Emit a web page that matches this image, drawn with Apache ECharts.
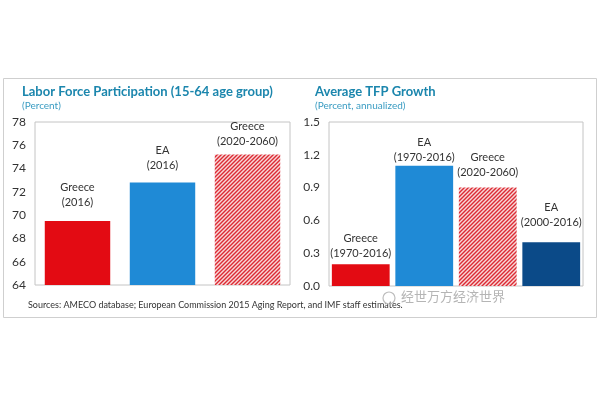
<!DOCTYPE html>
<html>
<head>
<meta charset="utf-8">
<script src="https://cdn.jsdelivr.net/npm/echarts@6/dist/echarts.min.js"></script>
<style>html,body{margin:0;padding:0;background:#fff;}#c{width:600px;height:400px;}</style>
</head>
<body>
<div id="c"></div>
<script>
// ---- data ----
var lfpCategories = ['Greece\n(2016)', 'EA\n(2016)', 'Greece\n(2020-2060)'];
var lfpValues = [69.5, 72.8, 75.2];
var lfpTicks = [64, 66, 68, 70, 72, 74, 76, 78];

var tfpCategories = ['Greece\n(1970-2016)', 'EA\n(1970-2016)', 'Greece\n(2020-2060)', 'EA\n(2000-2016)'];
var tfpValues = [0.2, 1.1, 0.9, 0.4];
var tfpTicks = [0.0, 0.3, 0.6, 0.9, 1.2, 1.5];

// ---- styles ----
var RED = '#e30b13', BLUE = '#1f8ad6', NAVY = '#0b4a88';
function hatch() {
  var c = document.createElement('canvas');
  c.width = 4; c.height = 4;
  var g = c.getContext('2d');
  g.fillStyle = '#f8d8d8'; g.fillRect(0, 0, 4, 4);
  g.strokeStyle = '#dc2a34'; g.lineWidth = 1.4;
  g.beginPath();
  g.moveTo(0, 4); g.lineTo(4, 0);
  g.moveTo(-1, 1); g.lineTo(1, -1);
  g.moveTo(3, 5); g.lineTo(5, 3);
  g.stroke();
  return {image: c, repeat: 'repeat'};
}
var HATCH = hatch();
var lfpColors = [RED, BLUE, HATCH];
var lfpOffsets = [[0, -1], [0, 0], [0, 4]];
var tfpColors = [RED, BLUE, HATCH, NAVY];
var tfpOffsets = [[0, 2], [0, 4], [0, -3], [0, -7]];

var FONT = 'Lato';
var chart = echarts.init(document.getElementById('c'));

function axisY(gi, ticks, fmt) {
  return {
    type: 'value', gridIndex: gi,
    min: ticks[0], max: ticks[ticks.length - 1],
    interval: ticks[1] - ticks[0],
    axisLine: {show: false}, axisTick: {show: false}, splitLine: {show: false},
    axisLabel: {color: '#333', fontSize: 12, fontFamily: FONT, margin: 9, formatter: fmt}
  };
}
function barData(vals, colors, offsets) {
  return vals.map(function (v, i) {
    return {value: v, itemStyle: {color: colors[i]}, label: {offset: offsets[i]}};
  });
}

chart.setOption({
  animation: false,
  backgroundColor: '#fff',
  title: [
    {text: 'Labor Force Participation (15-64 age group)', left: 22, top: 85, padding: 0,
     textStyle: {color: '#1b86ad', fontSize: 13, fontWeight: 'bold', fontFamily: FONT}},
    {text: '(Percent)', left: 22, top: 101, padding: 0,
     textStyle: {color: '#3a9cc2', fontSize: 10, fontWeight: 'normal', fontFamily: FONT}},
    {text: 'Average TFP Growth', left: 315, top: 85, padding: 0,
     textStyle: {color: '#1b86ad', fontSize: 13, fontWeight: 'bold', fontFamily: FONT}},
    {text: '(Percent, annualized)', left: 315, top: 101, padding: 0,
     textStyle: {color: '#3a9cc2', fontSize: 10, fontWeight: 'normal', fontFamily: FONT}}
  ],
  grid: [
    {left: 35, right: 310, top: 122, bottom: 115, show: true, borderColor: '#c4c4c4', borderWidth: 1},
    {left: 329, right: 17, top: 122, bottom: 114, show: true, borderColor: '#c4c4c4', borderWidth: 1}
  ],
  xAxis: [
    {type: 'category', gridIndex: 0, data: lfpCategories, axisLine: {show: false},
     axisTick: {show: false}, axisLabel: {show: false}},
    {type: 'category', gridIndex: 1, data: tfpCategories, axisLine: {show: false},
     axisTick: {show: false}, axisLabel: {show: false}}
  ],
  yAxis: [
    axisY(0, lfpTicks, function (v) { return String(v); }),
    axisY(1, tfpTicks, function (v) { return v.toFixed(1); })
  ],
  series: [
    {type: 'bar', xAxisIndex: 0, yAxisIndex: 0, barCategoryGap: '23%',
     data: barData(lfpValues, lfpColors, lfpOffsets),
     label: {show: true, position: 'top', distance: 10, formatter: '{b}', color: '#333',
             fontSize: 11, lineHeight: 15, fontFamily: FONT, align: 'center'}},
    {type: 'bar', xAxisIndex: 1, yAxisIndex: 1, barCategoryGap: '9%',
     data: barData(tfpValues, tfpColors, tfpOffsets),
     label: {show: true, position: 'top', distance: 5, formatter: '{b}', color: '#333',
             fontSize: 11, lineHeight: 15, fontFamily: FONT, align: 'center'}}
  ],
  graphic: [
    {type: 'rect', shape: {x: 3.5, y: 78.5, width: 593, height: 239}, silent: true,
     style: {fill: 'none', stroke: '#cfcfcf', lineWidth: 1}},
    {type: 'text', left: 28, top: 301, silent: true,
     style: {text: 'Sources: AMECO database; European Commission 2015 Aging Report, and IMF staff estimates.',
             fill: '#333', fontSize: 9, fontFamily: FONT}},
    {type: 'circle', shape: {cx: 389, cy: 298, r: 6}, silent: true,
     style: {fill: 'none', stroke: '#bdbdbd', lineWidth: 1.2}},
    {type: 'text', left: 401, top: 290, silent: true,
     style: {text: '经世万方经济世界', fill: '#b5b5b5', fontSize: 13, fontFamily: 'Noto Sans CJK SC'}}
  ]
});
</script>
</body>
</html>
